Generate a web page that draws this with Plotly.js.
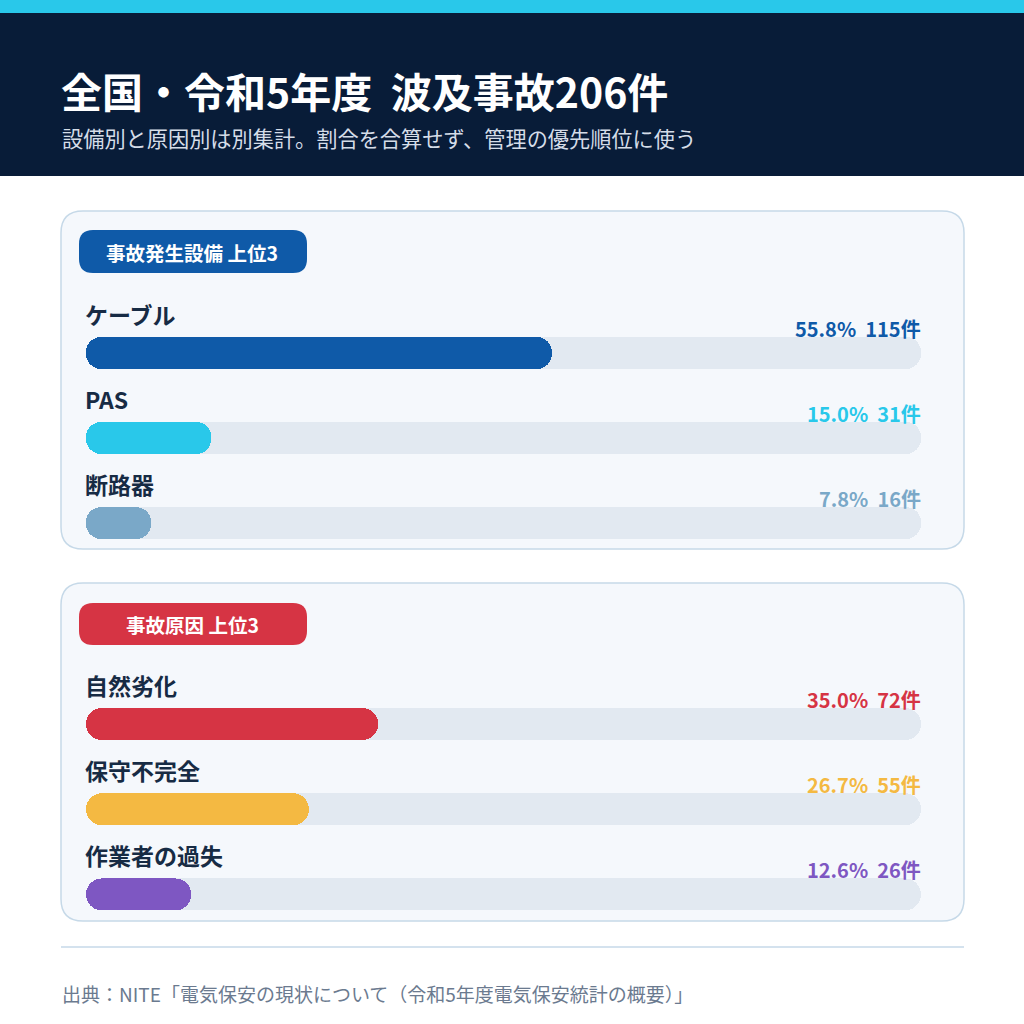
<!DOCTYPE html>
<html>
<head>
<meta charset="utf-8">
<script src="https://cdn.plot.ly/plotly-3.0.1.min.js"></script>
<style>
  html, body { margin: 0; padding: 0; background: #ffffff; }
  #graph { width: 1024px; height: 1024px; }
</style>
</head>
<body>
<div id="graph"></div>
<script>
"use strict";

// --- データ ---
const titleText = '全国・令和5年度  波及事故206件';
const subtitleText = '設備別と原因別は別集計。割合を合算せず、管理の優先順位に使う';
const sourceText = '出典：NITE「電気保安の現状について（令和5年度電気保安統計の概要）」';

const equipBadge = '事故発生設備 上位3';
const equipNames = ['ケーブル', 'PAS', '断路器'];
const equipPct = [55.8, 15.0, 7.8];
const equipCount = [115, 31, 16];
const equipColors = ['#0f5aa8', '#29c8ea', '#7aa8c8'];

const causeBadge = '事故原因 上位3';
const causeNames = ['自然劣化', '保守不完全', '作業者の過失'];
const causePct = [35.0, 26.7, 12.6];
const causeCount = [72, 55, 26];
const causeColors = ['#d63444', '#f4b942', '#7e57c2'];

const fullScale = [100, 100, 100];
const zeroBase = [0, 0, 0];

// --- 補助 ---
const W = 1024, H = 1024;
const FONT = '"Noto Sans CJK JP", "Noto Sans", sans-serif';
const px = x => x / W;
const py = y => 1 - y / H;

function roundRectPath(x0, y0, x1, y1, r) {
    const p = (x, y) => `${px(x)},${py(y)}`;
    return `M${p(x0 + r, y0)} L${p(x1 - r, y0)} Q${p(x1, y0)} ${p(x1, y0 + r)} ` +
        `L${p(x1, y1 - r)} Q${p(x1, y1)} ${p(x1 - r, y1)} L${p(x0 + r, y1)} ` +
        `Q${p(x0, y1)} ${p(x0, y1 - r)} L${p(x0, y0 + r)} Q${p(x0, y0)} ${p(x0 + r, y0)} Z`;
}

// base を明示すると cornerradius が両端に効く
function pillTrace(values, names, color, axY) {
    return {
        type: 'bar', orientation: 'h', x: values, y: names, yaxis: axY, base: zeroBase,
        width: 0.376, marker: { color: color, cornerradius: 16, line: { width: 0 } },
        hoverinfo: 'skip', showlegend: false
    };
}

function rowAnnotations(names, pct, counts, colors, yref) {
    const ann = [];
    names.forEach((n, i) => {
        ann.push({
            x: 0, y: n, xref: 'x', yref: yref, xanchor: 'left', yanchor: 'middle',
            xshift: -3, yshift: 39, showarrow: false, text: n,
            font: { family: FONT, size: 23, color: '#172b44', weight: 700 }
        });
        ann.push({
            x: 100, y: n, xref: 'x', yref: yref, xanchor: 'right', yanchor: 'middle',
            xshift: 2, yshift: 25, showarrow: false, text: `${pct[i].toFixed(1)}%  ${counts[i]}件`,
            font: { family: FONT, size: 20, color: colors[i], weight: 700 }
        });
    });
    return ann;
}

const traces = [
    pillTrace(fullScale, equipNames, '#e2e9f1', 'y'),
    pillTrace(equipPct, equipNames, equipColors, 'y'),
    pillTrace(fullScale, causeNames, '#e2e9f1', 'y2'),
    pillTrace(causePct, causeNames, causeColors, 'y2')
];

const shapes = [
    { type: 'rect', xref: 'paper', yref: 'paper', x0: 0, x1: 1, y0: py(13), y1: py(0), fillcolor: '#29c8ea', line: { width: 0 }, layer: 'below' },
    { type: 'rect', xref: 'paper', yref: 'paper', x0: 0, x1: 1, y0: py(176), y1: py(13), fillcolor: '#081c38', line: { width: 0 }, layer: 'below' },
    { type: 'path', xref: 'paper', yref: 'paper', path: roundRectPath(61, 211, 964, 549, 22), fillcolor: '#f5f8fc', line: { color: '#c6d9e8', width: 1.5 }, layer: 'below' },
    { type: 'path', xref: 'paper', yref: 'paper', path: roundRectPath(61, 583, 964, 921, 22), fillcolor: '#f5f8fc', line: { color: '#c6d9e8', width: 1.5 }, layer: 'below' },
    { type: 'path', xref: 'paper', yref: 'paper', path: roundRectPath(79, 230, 307, 273, 14), fillcolor: '#0f5aa8', line: { width: 0 }, layer: 'below' },
    { type: 'path', xref: 'paper', yref: 'paper', path: roundRectPath(79, 603, 307, 645, 14), fillcolor: '#d63444', line: { width: 0 }, layer: 'below' },
    { type: 'line', xref: 'paper', yref: 'paper', x0: px(61), x1: px(964), y0: py(947), y1: py(947), line: { color: '#c6d9e8', width: 1.5 }, layer: 'below' }
];

const annotations = [
    { xref: 'paper', yref: 'paper', x: px(59), y: py(90), xanchor: 'left', yanchor: 'middle', showarrow: false,
      text: titleText, font: { family: FONT, size: 41, color: '#ffffff', weight: 700 } },
    { xref: 'paper', yref: 'paper', x: px(60), y: py(137), xanchor: 'left', yanchor: 'middle', showarrow: false,
      text: subtitleText, font: { family: FONT, size: 21.2, color: '#d5dde8' } },
    { xref: 'paper', yref: 'paper', x: px(192), y: py(252), xanchor: 'center', yanchor: 'middle', showarrow: false,
      text: equipBadge, font: { family: FONT, size: 19.5, color: '#ffffff', weight: 700 } },
    { xref: 'paper', yref: 'paper', x: px(192), y: py(624), xanchor: 'center', yanchor: 'middle', showarrow: false,
      text: causeBadge, font: { family: FONT, size: 19.5, color: '#ffffff', weight: 700 } },
    { xref: 'paper', yref: 'paper', x: px(60), y: py(993), xanchor: 'left', yanchor: 'middle', showarrow: false,
      text: sourceText, font: { family: FONT, size: 19, color: '#6b7a8f' } },
    ...rowAnnotations(equipNames, equipPct, equipCount, equipColors, 'y'),
    ...rowAnnotations(causeNames, causePct, causeCount, causeColors, 'y2')
];

const hiddenAxis = { showgrid: false, zeroline: false, showticklabels: false, showline: false, ticks: '', fixedrange: true };

const layout = {
    width: W, height: H,
    margin: { t: 0, b: 0, l: 0, r: 0 },
    paper_bgcolor: '#ffffff', plot_bgcolor: 'rgba(0,0,0,0)',
    barmode: 'overlay', bargap: 0,
    showlegend: false,
    xaxis: Object.assign({}, hiddenAxis, { domain: [px(86), px(921)], range: [0, 100], anchor: 'y' }),
    yaxis: Object.assign({}, hiddenAxis, {
        domain: [py(565.5), py(310.5)], type: 'category', categoryarray: equipNames,
        range: [2.5, -0.5], anchor: 'x'
    }),
    yaxis2: Object.assign({}, hiddenAxis, {
        domain: [py(937), py(681.5)], type: 'category', categoryarray: causeNames,
        range: [2.5, -0.5], anchor: 'x'
    }),
    shapes: shapes,
    annotations: annotations
};

Plotly.newPlot('graph', traces, layout, { staticPlot: true, displayModeBar: false }).catch(err => {
    console.error('グラフ描画エラー:', err);
});
</script>
</body>
</html>
